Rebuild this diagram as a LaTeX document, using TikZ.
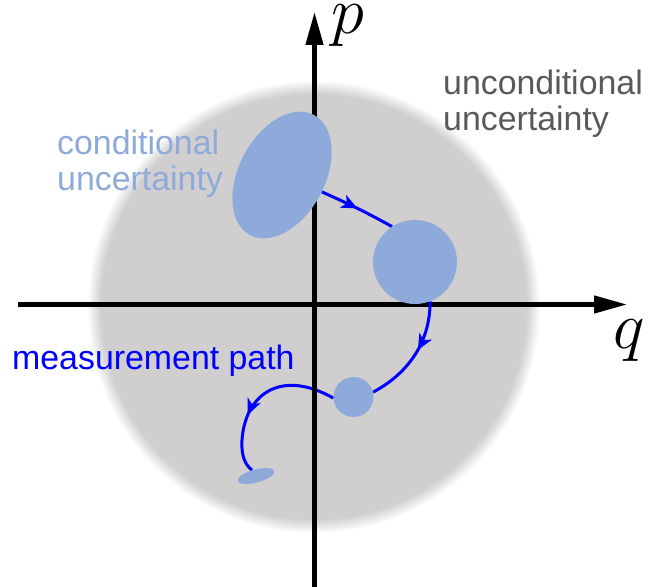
\RequirePackage{fix-cm}
\documentclass[tikz,border=0pt]{standalone}
\usepackage{fontspec}
\newfontfamily\labelsans{Liberation Sans}
\usepackage{tikz}
\usetikzlibrary{
	arrows.meta,
	shapes.geometric,
	decorations.markings,
	backgrounds
}
\definecolor{diskGrey}{HTML}{D0CECE}
\definecolor{blobBlue}{HTML}{8EAADB}
\definecolor{pathBlue}{HTML}{0000FF}
\definecolor{textGrey}{HTML}{595959}
\tikzset{
	blob/.style={
		fill=blobBlue,
		draw=none,
		inner sep=0pt
	},
	axisline/.style={
		line width=4.5bp,
		-{Triangle[length=33bp,width=17bp]}
	},
	flow/.style={
		pathBlue,
		line width=3bp,
		decoration={markings,
			mark=at position #1 with {\arrow{Stealth[length=16bp,width=14bp,inset=4.5bp]}}},
		postaction={decorate}
	},
	labeltext/.style={
		font={\labelsans\fontsize{34}{37}\selectfont},
		inner sep=0pt,
		anchor=base west,
		align=left
	},
	axislabel/.style={
		font={\fontsize{67}{70}\selectfont},
		inner sep=0pt,
		anchor=base west
	}
}

\begin{document}
\begin{tikzpicture}[x=1bp, y=-1bp]
	\useasboundingbox (0,0) rectangle (648,587);
	% uncertainty blobs along the path
	\node[blob, ellipse, minimum width=136bp, minimum height=86bp, rotate=62] (blobA) at (282,175) {};
	\node[blob, circle, minimum size=84bp] (blobB) at (415,262) {};
	\node[blob, circle, minimum size=40bp] (blobC) at (353.5,397) {};
	\node[blob, ellipse, minimum width=38bp, minimum height=13bp, rotate=15] (blobD) at (256,476) {};
	% axis ends
	\coordinate (qstart) at (18,304.5);
	\coordinate (qend) at (627,304.5);
	\coordinate (pstart) at (314.5,587);
	\coordinate (pend) at (314.5,12);
	\begin{scope}[on background layer]
		% soft edged disk
		\foreach \k [evaluate=\k as \rad using 227-\k,
			evaluate=\k as \pct using int(100*\k/14)] in {1,...,14}
			\fill[diskGrey!\pct!white] (314,307) circle[radius=\rad bp];
		\draw[axisline] (qstart) -- (qend);
		\draw[flow=0.5] (blobA.-85) .. controls +(25,11) and +(-25,-14) .. (blobB.123);
		\draw[flow=0.45] (blobB.-69) .. controls +(0,44) and +(32,-17) .. (blobC.14);
		\draw[flow=0.63] (blobC.183) .. controls (280,368) and (245,395) .. (242,440)
			.. controls (241,455) and (245,465) .. (blobD.109);
		\draw[axisline] (pstart) -- (pend);
	\end{scope}
	% labels
	\node[axislabel] (plabel) at (331,34) {$p$};
	\node[axislabel] (qlabel) at (613,348) {$q$};
	\node[labeltext, textGrey] (uncond) at (443,131) {unconditional\\uncertainty};
	\node[labeltext, blobBlue] (cond) at (57,191) {conditional\\uncertainty};
	\node[labeltext, pathBlue] (measpath) at (12,369) {measurement path};
\end{tikzpicture}
\end{document}
